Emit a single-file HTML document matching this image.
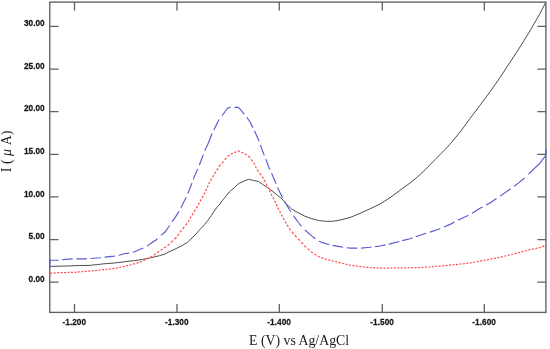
<!DOCTYPE html>
<html><head><meta charset="utf-8"><style>
html,body{margin:0;padding:0;background:#fff;}
body{width:550px;height:349px;overflow:hidden;font-family:"Liberation Sans",sans-serif;}
svg{display:block;filter:blur(0.35px);}
</style></head><body>
<svg width="550" height="349" viewBox="0 0 550 349">
<rect x="49.75" y="2.1" width="496.15" height="310.30" fill="none" stroke="#606060" stroke-width="1.35"/>
<path d="M49.75,282.20H58.55M545.9,282.20H537.4M49.75,239.57H58.55M545.9,239.57H537.4M49.75,196.93H58.55M545.9,196.93H537.4M49.75,154.30H58.55M545.9,154.30H537.4M49.75,111.67H58.55M545.9,111.67H537.4M49.75,69.03H58.55M545.9,69.03H537.4M49.75,26.40H58.55M545.9,26.40H537.4M74.5,312.4V303.9M74.5,2.1V10.4M177.0,312.4V303.9M177.0,2.1V10.4M279.3,312.4V303.9M279.3,2.1V10.4M382.3,312.4V303.9M382.3,2.1V10.4M484.3,312.4V303.9M484.3,2.1V10.4" stroke="#606060" stroke-width="1.3" fill="none"/>
<polyline points="49.8,267.6 51.6,266.4 69.6,265.9 79.1,265.5 89.0,265.4 97.6,264.5 106.2,263.6 114.8,263.0 123.4,261.9 129.0,261.1 133.6,260.8 142.2,259.5 150.8,257.8 159.4,255.7 165.0,254.0 168.0,252.3 175.0,249.1 182.1,245.6 187.1,242.6 189.6,240.3 195.0,235.0 200.0,229.5 204.5,224.7 208.0,220.2 211.2,215.8 214.3,210.9 217.5,206.6 220.0,203.9 222.4,200.5 225.9,196.2 229.3,192.0 234.4,187.6 238.7,183.6 243.1,181.5 248.5,179.3 253.3,180.4 258.4,181.5 262.7,184.4 267.2,187.2 273.0,191.6 277.5,195.4 282.1,199.0 285.3,202.9 291.6,209.0 298.0,212.7 304.9,216.2 311.7,218.7 318.6,220.5 325.5,221.3 332.3,221.3 338.0,220.5 345.0,218.8 350.0,217.5 360.0,213.4 370.0,208.8 380.0,204.0 390.0,197.7 400.0,190.3 405.0,186.6 410.0,183.0 415.0,179.0 420.0,174.6 425.0,169.8 430.0,164.8 435.0,159.6 440.0,154.6 445.0,149.6 450.0,144.2 460.0,132.2 470.0,118.5 480.0,105.3 490.0,91.8 500.0,77.5 510.0,62.3 520.0,47.0 530.0,30.8 540.0,13.5 545.4,3.0" fill="none" stroke="#4d4d4d" stroke-width="1.0" stroke-linejoin="round"/>
<path d="M49.80,267.30L50.00,260.30L51.60,260.20L58.50,260.20L58.60,260.19M49.80,267.30L49.84,265.76M49.95,262.09L50.00,260.30L51.60,260.20L58.50,260.20L58.64,260.18M62.31,259.67L62.80,259.60L72.20,258.90L72.74,258.89M76.43,258.80L76.50,258.80L86.80,258.80L86.86,258.80M90.54,258.51L90.70,258.50L100.20,257.80L100.98,257.69M104.66,257.18L114.40,256.10L115.09,255.98M118.77,255.36L119.10,255.30L125.00,253.50L128.40,253.10L129.21,252.95M132.89,252.26L133.20,252.20L142.60,248.30L143.32,247.95M147.01,246.13L151.00,243.30L156.00,240.00L157.44,238.70M161.12,235.39L165.00,232.00L169.00,226.50L169.69,225.44M172.09,221.76L172.20,221.60L175.70,216.60L179.03,211.33M180.93,207.65L182.90,203.70L185.80,198.00L186.15,197.21M187.79,193.53L188.70,191.50L191.50,184.30L191.95,183.10M193.35,179.38L194.40,176.60L196.50,171.60L197.66,168.95M199.29,165.23L199.30,165.20L202.90,155.80L203.29,154.80M204.72,151.08L205.10,150.10L208.70,142.20L211.90,133.80L212.08,133.44M213.84,129.92L214.20,129.20L216.50,124.60L218.80,120.10L219.25,119.49M222.05,115.71L222.20,115.50L225.10,111.50L227.90,108.00L230.20,107.40L230.63,107.40M234.50,107.40L234.80,107.40L238.20,107.40L240.50,109.70L243.40,113.20L244.18,114.13M246.74,117.20L247.00,117.50L250.00,122.00L252.89,127.63M254.41,130.78L258.60,140.00L259.04,141.21M260.38,144.93L262.20,150.00L264.29,155.37M265.74,159.09L266.10,160.00L268.90,167.50L269.83,169.52M271.54,173.24L271.80,173.80L275.80,183.00L276.07,183.67M277.57,187.39L278.10,188.70L282.10,196.70L282.71,197.83M284.74,201.58L285.50,203.00L290.10,210.80L290.96,212.02M293.63,215.78L294.00,216.30L298.00,222.00L300.30,225.00L301.44,226.21M304.97,229.96L311.70,235.90L315.40,238.69M318.81,241.18L325.50,243.60L329.24,244.54M332.65,245.37L338.00,246.40L343.08,247.27M346.79,247.78L350.00,248.10L357.23,248.17M360.94,248.12L370.00,247.30L371.37,247.12M375.08,246.64L380.00,246.00L385.52,244.84M388.64,244.18L390.00,243.90L399.08,241.45M402.21,240.65L410.00,238.70L412.64,237.78M415.77,236.68L420.00,235.20L426.20,233.28M429.85,232.15L430.00,232.10L440.00,228.70L440.29,228.58M443.94,227.01L450.00,224.40L454.37,222.13M458.02,220.23L460.00,219.20L468.00,215.50L468.45,215.26M472.10,213.33L480.00,208.30L482.54,206.96M486.10,205.07L490.00,203.00L496.53,198.56M500.09,196.14L510.00,189.20L510.52,188.82M514.08,186.21L519.00,182.60L524.52,178.00M528.40,174.20L528.50,174.10L539.10,164.00L545.90,155.30L546.00,149.00M541.76,160.60L545.90,155.30L545.98,150.17" fill="none" stroke="#5a5ad2" stroke-width="1.15"/>
<path d="M49.80,276.20L50.04,274.80M50.29,273.35L50.30,273.30L51.60,273.10L52.25,273.05M53.70,272.94L55.70,272.78M57.15,272.67L59.15,272.51M60.60,272.50L62.60,272.50M64.05,272.50L66.05,272.50M67.50,272.48L69.50,272.46M70.95,272.44L72.95,272.42M74.40,272.40L74.80,272.40L76.40,272.21M77.85,272.05L79.10,271.90L79.85,271.84M81.30,271.72L83.30,271.56M84.75,271.44L86.75,271.28M88.20,271.16L89.00,271.10L90.20,271.00M91.65,270.88L93.65,270.72M95.10,270.60L97.10,270.44M98.55,270.30L100.55,270.09M102.00,269.94L104.00,269.73M105.45,269.58L106.20,269.50L107.45,269.34M108.90,269.15L110.90,268.90M112.35,268.71L114.35,268.46M115.80,268.20L117.80,267.81M119.25,267.52L121.25,267.12M122.70,266.84L123.40,266.70L124.70,266.35M126.15,265.96L128.15,265.43M129.60,265.04L131.60,264.51M133.05,264.12L135.00,263.60L135.05,263.58M136.50,263.09L138.50,262.42M139.95,261.93L141.80,261.30L141.95,261.23M143.40,260.54L145.40,259.59M146.85,258.92L148.85,257.99M150.30,257.32L152.30,256.39M153.75,255.34L155.75,253.79M157.20,252.74L159.20,251.31M160.65,250.33L162.65,249.00M164.10,248.03L166.10,246.70M167.55,245.64L169.55,243.97M171.00,242.60L173.00,240.60L173.00,240.60M174.45,239.19L176.45,237.25M177.50,235.80L178.89,233.80M179.96,232.35L181.46,230.35M182.61,228.90L184.33,226.90M185.54,225.45L187.14,223.45M188.17,222.00L189.23,220.00M190.01,218.55L191.09,216.55M191.92,215.10L193.22,213.10M194.14,211.65L195.38,209.65M196.28,208.20L197.53,206.20M198.37,204.75L199.38,202.75M200.12,201.30L201.35,199.30M202.19,197.85L203.26,195.85M204.03,194.40L204.40,193.70L204.99,192.40M205.65,190.95L206.57,188.95M207.23,187.50L208.15,185.50M208.82,184.05L209.75,182.05M210.52,180.60L211.67,178.60M212.51,177.15L213.00,176.30L213.69,175.15M214.55,173.70L215.75,171.70M216.61,170.25L216.70,170.10L217.93,168.25M218.90,166.80L219.30,166.20L220.54,164.80M221.81,163.35L222.30,162.80L223.50,161.35M224.70,159.90L225.20,159.30L226.33,157.90M227.50,156.45L227.70,156.20L229.45,155.10M230.90,154.19L231.20,154.00L232.90,153.24M234.35,152.60L234.80,152.40L236.35,151.70M237.80,151.04L238.10,150.90L239.80,151.56M241.25,152.12L241.70,152.30L243.25,153.08M244.70,153.80L245.10,154.00L246.70,155.04M248.15,155.97L248.50,156.20L249.88,157.85M251.10,159.30L251.10,159.30L252.53,161.30M253.56,162.75L254.10,163.50L254.69,164.75M255.38,166.20L256.00,167.50L256.41,168.20M257.26,169.65L258.00,170.90L258.54,171.65M259.59,173.10L260.90,174.90L261.05,175.10M262.15,176.55L263.10,177.80L263.51,178.55M264.30,180.00L264.90,181.10L265.35,182.00M266.07,183.45L266.70,184.70L267.07,185.45M267.77,186.90L268.50,188.40L268.72,188.90M269.38,190.35L270.27,192.35M270.97,193.80L272.07,195.80M272.87,197.25L273.50,198.40L273.89,199.25M274.54,200.70L275.45,202.70M276.12,204.15L277.13,206.15M277.85,207.60L278.85,209.60M279.57,211.05L280.58,213.05M281.36,214.50L282.44,216.50M283.22,217.95L284.30,219.95M285.08,221.40L285.30,221.80L286.27,223.40M287.15,224.85L288.37,226.85M289.25,228.30L290.10,229.70L290.62,230.30M291.87,231.75L293.60,233.75M294.85,235.20L296.40,237.00L296.59,237.20M297.99,238.65L299.92,240.65M301.32,242.10L301.90,242.70L303.07,244.10M304.27,245.55L304.90,246.30L306.15,247.39M307.60,248.64L309.60,250.38M311.05,251.64L311.70,252.20L313.05,253.04M314.50,253.94L316.50,255.19M317.95,256.09L318.60,256.50L319.95,257.01M321.40,257.56L323.40,258.31M324.85,258.86L325.50,259.10L326.85,259.46M328.30,259.84L330.30,260.37M331.75,260.75L332.30,260.90L333.75,261.23M335.20,261.56L337.20,262.02M338.65,262.37L340.65,262.88M342.10,263.25L344.10,263.77M345.55,264.12L347.55,264.56M349.00,264.88L350.00,265.10L351.00,265.25M352.45,265.47L354.45,265.77M355.90,265.98L357.90,266.29M359.35,266.50L360.00,266.60L361.35,266.72M362.80,266.85L364.80,267.03M366.25,267.16L368.25,267.34M369.70,267.47L370.00,267.50L371.70,267.59M373.15,267.66L375.15,267.76M376.60,267.83L378.60,267.93M380.05,268.00L382.05,268.00M383.50,268.00L385.50,268.00M386.95,268.00L388.95,268.00M390.40,268.00L392.40,267.98M393.85,267.96L395.85,267.94M397.30,267.93L399.30,267.91M400.75,267.89L402.75,267.84M404.20,267.82L406.20,267.78M407.65,267.75L409.65,267.71M411.10,267.68L413.10,267.64M414.55,267.61L416.55,267.57M418.00,267.54L420.00,267.50L420.00,267.50M421.45,267.41L423.45,267.29M424.90,267.21L426.90,267.09M428.35,267.00L430.00,266.90L430.35,266.87M431.80,266.76L433.80,266.60M435.25,266.48L437.25,266.32M438.70,266.20L440.00,266.10L440.70,266.03M442.15,265.89L444.15,265.68M445.60,265.54L447.60,265.34M449.05,265.20L450.00,265.10L451.05,264.99M452.50,264.85L454.50,264.65M455.95,264.51L457.95,264.30M459.40,264.16L460.00,264.10L461.40,263.95M462.85,263.79L464.85,263.57M466.30,263.41L468.30,263.19M469.75,263.03L470.00,263.00L471.75,262.67M473.20,262.39L475.20,262.01M476.65,261.74L478.65,261.36M480.10,261.08L482.10,260.70M483.55,260.43L485.55,260.05M487.00,259.77L489.00,259.39M490.45,259.11L492.45,258.73M493.90,258.46L495.90,258.08M497.35,257.80L499.35,257.42M500.80,257.10L502.80,256.60M504.25,256.24L506.25,255.74M507.70,255.38L509.70,254.87M511.15,254.51L513.15,254.01M514.60,253.65L516.60,253.15M518.05,252.79L520.00,252.30L520.05,252.29M521.50,251.91L523.50,251.39M524.95,251.01L526.95,250.49M528.40,250.12L530.00,249.70L530.40,249.61M531.85,249.29L533.85,248.85M535.30,248.53L537.30,248.09M538.75,247.78L540.00,247.50L540.75,247.21M542.20,246.66L544.20,245.90" fill="none" stroke="#ff5050" stroke-width="1.25"/>
<g font-family="Liberation Sans, sans-serif" font-weight="bold" font-size="9.7" fill="#151515" stroke="#151515" stroke-width="0.25"><text transform="translate(44.7,282.00) scale(0.855,1)" text-anchor="end">0.00</text><text transform="translate(44.7,239.37) scale(0.855,1)" text-anchor="end">5.00</text><text transform="translate(44.7,196.73) scale(0.855,1)" text-anchor="end">10.00</text><text transform="translate(44.7,154.10) scale(0.855,1)" text-anchor="end">15.00</text><text transform="translate(44.7,111.47) scale(0.855,1)" text-anchor="end">20.00</text><text transform="translate(44.7,68.83) scale(0.855,1)" text-anchor="end">25.00</text><text transform="translate(44.7,26.20) scale(0.855,1)" text-anchor="end">30.00</text><text transform="translate(74.30,324.7) scale(0.855,1)" text-anchor="middle">-1.200</text><text transform="translate(176.80,324.7) scale(0.855,1)" text-anchor="middle">-1.300</text><text transform="translate(279.10,324.7) scale(0.855,1)" text-anchor="middle">-1.400</text><text transform="translate(382.10,324.7) scale(0.855,1)" text-anchor="middle">-1.500</text><text transform="translate(484.10,324.7) scale(0.855,1)" text-anchor="middle">-1.600</text></g>
<text x="299.1" y="344.6" text-anchor="middle" font-family="Liberation Serif, serif" font-size="13.8" fill="#1a1a1a">E (V) vs Ag/AgCl</text>
<text transform="translate(11.3,151.4) rotate(-90)" text-anchor="middle" font-family="Liberation Serif, serif" font-size="14" fill="#1a1a1a">I ( <tspan font-style="italic">μ</tspan> A)</text>
</svg>
</body></html>
